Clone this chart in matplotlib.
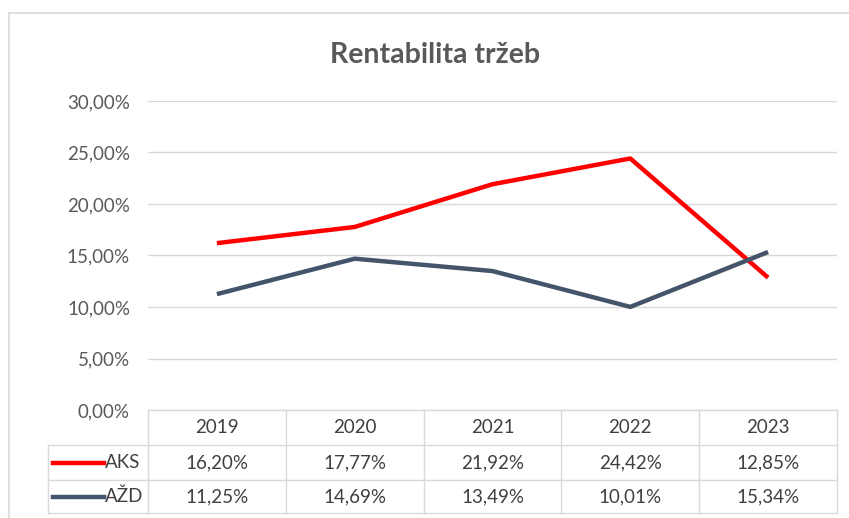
import matplotlib.pyplot as plt
from matplotlib.lines import Line2D

plt.rcParams['font.family'] = ['Lato', 'DejaVu Sans']

years = ['2019', '2020', '2021', '2022', '2023']
aks = [16.20, 17.77, 21.92, 24.42, 12.85]
azd = [11.25, 14.69, 13.49, 10.01, 15.34]
series_names = ['AKS', 'AŽD']
colors = ['#FF0000', '#44546A']

W, H = 849, 518
fig = plt.figure(figsize=(W / 100, H / 100), dpi=100)

def fx(px):
    return px / W

def fy(px):
    return 1 - px / H

# outer chart frame (only left and top edges visible in the crop)
fig.add_artist(Line2D([fx(9), fx(9)], [fy(13), 0], color='#D9D9D9', lw=1.2))
fig.add_artist(Line2D([fx(9), 1], [fy(13), fy(13)], color='#D9D9D9', lw=1.2))

left, right, top, bottom = 148, 837, 101, 410
ax = fig.add_axes([fx(left), fy(bottom), fx(right) - fx(left), fy(top) - fy(bottom)])

x = range(len(years))
ax.plot(x, aks, color=colors[0], lw=3.2, solid_capstyle='butt')
ax.plot(x, azd, color=colors[1], lw=3.2, solid_capstyle='butt')

ax.set_xlim(-0.5, len(years) - 0.5)
ax.set_ylim(0, 30)
yt = [0, 5, 10, 15, 20, 25, 30]
ax.set_yticks(yt)
ax.set_yticklabels([f'{v:.2f}%'.replace('.', ',') for v in yt], color='#595959', fontsize=13.5)
ax.tick_params(axis='y', length=0, pad=13)
ax.set_xticks([])
ax.grid(axis='y', color='#D9D9D9', lw=1)
ax.set_axisbelow(True)
for s in ax.spines.values():
    s.set_visible(False)

fig.text(fx(435), fy(55), 'Rentabilita tržeb', ha='center', va='center',
         fontsize=20.5, fontweight='bold', color='#595959')

# data table below the plot
grid_c = '#D9D9D9'
col_w = (right - left) / len(years)
row_y = [410, 445, 480, 513]
lab_left = 48

def hline(x0, x1, y):
    fig.add_artist(Line2D([fx(x0), fx(x1)], [fy(y), fy(y)], color=grid_c, lw=1))

def vline(xp, y0, y1):
    fig.add_artist(Line2D([fx(xp), fx(xp)], [fy(y0), fy(y1)], color=grid_c, lw=1))

hline(left, right, row_y[0])
for y in row_y[1:]:
    hline(lab_left, right, y)
vline(lab_left, row_y[1], row_y[3])
for i in range(len(years) + 1):
    vline(left + i * col_w, row_y[0], row_y[3])

for i, yr in enumerate(years):
    cx = left + (i + 0.5) * col_w
    fig.text(fx(cx), fy((row_y[0] + row_y[1]) / 2), yr, ha='center', va='center',
             fontsize=13.5, color='#404040')
    for r, vals in enumerate([aks, azd]):
        fig.text(fx(cx), fy((row_y[r + 1] + row_y[r + 2]) / 2),
                 f'{vals[i]:.2f}%'.replace('.', ','), ha='center', va='center',
                 fontsize=13.5, color='#404040')

for r, name in enumerate(series_names):
    cy = (row_y[r + 1] + row_y[r + 2]) / 2
    fig.add_artist(Line2D([fx(53), fx(104)], [fy(cy), fy(cy)], color=colors[r], lw=3.2))
    fig.text(fx(105), fy(cy), name, ha='left', va='center', fontsize=13.5, color='#404040')

fig.savefig('out.png', dpi=100)
